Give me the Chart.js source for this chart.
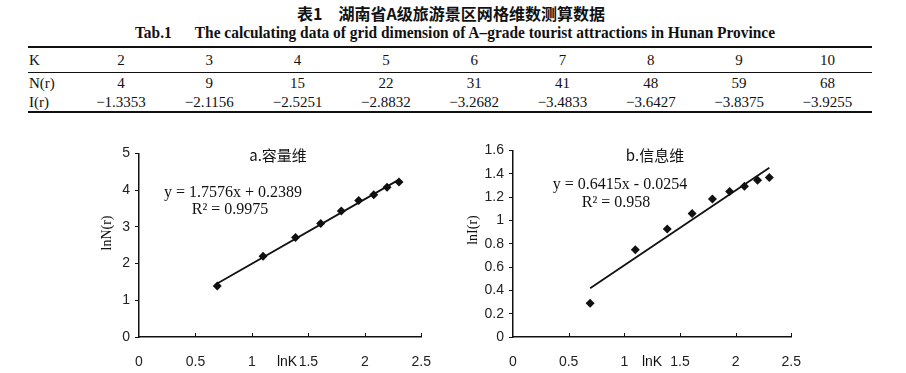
<!DOCTYPE html>
<html>
<head>
<meta charset="utf-8">
<script src="https://cdn.jsdelivr.net/npm/chart.js@4.4.1/dist/chart.umd.min.js"></script>
<style>
  body { margin: 0; width: 906px; height: 373px; overflow: hidden; position: relative; background: #fff; color: #111; font-family: "Liberation Serif", serif; }
  .txt { position: absolute; white-space: nowrap; }
  .rule { position: absolute; left: 28px; width: 844px; background: #111; }
  canvas { position: absolute; }
</style>
</head>
<body>
<div id="tbl"></div>
<canvas id="ca" width="350" height="233" style="left:90px;top:140px"></canvas>
<canvas id="cb" width="350" height="236" style="left:460px;top:137px"></canvas>
<script>
// table data
const K = [2, 3, 4, 5, 6, 7, 8, 9, 10]
const N = [4, 9, 15, 22, 31, 41, 48, 59, 68]
const I = [-1.3353, -2.1156, -2.5251, -2.8832, -3.2682, -3.4833, -3.6427, -3.8375, -3.9255]

// points
const lnK = [0.693, 1.099, 1.386, 1.609, 1.792, 1.946, 2.079, 2.197, 2.303]
const lnN = [1.386, 2.197, 2.708, 3.091, 3.434, 3.714, 3.871, 4.078, 4.220]
const lnI = [0.289, 0.749, 0.926, 1.059, 1.184, 1.248, 1.293, 1.345, 1.367]

// fitted lines (end points)
const fitX = [0.693, 2.303]
const fitN = [1.457, 4.286]
const fitI = [0.419, 1.452]

const xTicks = [0, 0.5, 1, 1.5, 2, 2.5]

// ---- Table ----
const tbl = document.getElementById('tbl')

function addText(text, x, y, font, anchor) {
  const el = document.createElement('div')
  el.className = 'txt'
  el.textContent = text
  el.style.font = font
  el.style.left = x + 'px'
  el.style.top = y + 'px'
  el.style.transform = anchor === 'left' ? 'translate(0,-50%)' : 'translate(-50%,-50%)'
  tbl.appendChild(el)
  return el
}

// squeeze a line of text into a given width
function fitWidth(el, left, width) {
  el.style.transform = 'translate(0,-50%)'
  el.style.transformOrigin = 'left center'
  const w = el.getBoundingClientRect().width
  el.style.left = left + 'px'
  el.style.transform = `translate(0,-50%) scaleX(${width / w})`
}

const t1 = addText('表1　湖南省A级旅游景区网格维数测算数据', 0, 13, 'bold 16px "Noto Sans CJK SC"', 'left')
fitWidth(t1, 297, 308)
const t2 = addText('Tab.1\u2003\u2002The calculating data of grid dimension of A\u2013grade tourist attractions in Hunan Province', 0, 33, 'bold 16px "Liberation Serif"', 'left')
fitWidth(t2, 135, 640)

;[[46, 2], [72, 1], [111, 2]].forEach(([y, h]) => {
  const r = document.createElement('div')
  r.className = 'rule'
  r.style.top = y + 'px'
  r.style.height = h + 'px'
  tbl.appendChild(r)
})

const fmtI = v => (v < 0 ? '\u2212' : '') + Math.abs(v).toFixed(4)
const rows = [
  { label: 'K', vals: K.map(String), y: 60 },
  { label: 'N(r)', vals: N.map(String), y: 83 },
  { label: 'I(r)', vals: I.map(fmtI), y: 102 },
]
const cellFont = '15px "Liberation Serif"'
rows.forEach(row => {
  addText(row.label, 29, row.y, cellFont, 'left')
  row.vals.forEach((v, i) => addText(v, 121 + 88.3 * i, row.y, cellFont))
})

// ---- Charts ----
const ink = '#111'

const overlay = {
  id: 'overlay',
  afterDraw(chart, args, opts) {
    const ctx = chart.ctx
    const xs = chart.scales.x
    const bottom = chart.chartArea.bottom
    ctx.save()
    // small tick marks pointing up from the x axis
    ctx.strokeStyle = ink
    ctx.lineWidth = 1
    xs.ticks.forEach(t => {
      if (t.value === 0) return
      const px = Math.round(xs.getPixelForValue(t.value)) + 0.5
      ctx.beginPath()
      ctx.moveTo(px, bottom)
      ctx.lineTo(px, bottom - 4)
      ctx.stroke()
    })
    ctx.fillStyle = ink
    ctx.textAlign = 'center'
    ctx.textBaseline = 'middle'
    opts.texts.forEach(t => {
      ctx.save()
      ctx.font = t.font
      ctx.translate(t.x, t.y)
      if (t.rot) ctx.rotate(-Math.PI / 2)
      ctx.fillText(t.text, 0, 0)
      ctx.restore()
    })
    ctx.restore()
  }
}

function makeChart(id, ys, fitY, yMax, yStep, axisW, texts) {
  const pts = lnK.map((x, i) => ({ x, y: ys[i] }))
  const line = fitX.map((x, i) => ({ x, y: fitY[i] }))
  return new Chart(document.getElementById(id), {
    type: 'scatter',
    data: {
      datasets: [
        {
          data: line,
          showLine: true,
          borderColor: ink,
          borderWidth: 1.8,
          pointRadius: 0,
        },
        {
          data: pts,
          pointStyle: 'rectRot',
          pointRadius: 4.5,
          backgroundColor: ink,
          borderColor: ink,
          borderWidth: 0,
        },
      ]
    },
    options: {
      responsive: false,
      animation: false,
      devicePixelRatio: 1,
      layout: { padding: { top: 10, right: 17 } },
      plugins: {
        legend: { display: false },
        tooltip: { enabled: false },
        overlay: { texts },
      },
      scales: {
        x: {
          type: 'linear',
          min: 0,
          max: 2.5,
          afterBuildTicks: s => { s.ticks = xTicks.map(value => ({ value })) },
          ticks: {
            color: '#222',
            padding: 9,
            font: { family: '"Liberation Sans", Arial', size: 14 },
            callback: v => String(v),
          },
          grid: { display: false },
          border: { color: ink, width: 1.5 },
          afterFit: s => { s.height = 36 },
        },
        y: {
          min: 0,
          max: yMax,
          ticks: {
            stepSize: yStep,
            color: '#222',
            padding: 5,
            font: { family: '"Liberation Sans", Arial', size: 14 },
            callback: v => String(+v.toFixed(2)),
          },
          grid: { display: true, drawOnChartArea: false, drawTicks: true, tickLength: 4, color: ink },
          border: { color: ink, width: 1.5 },
          afterFit: s => { s.width = axisW },
        },
      }
    },
    plugins: [overlay]
  })
}

makeChart('ca', lnN, fitN, 5, 1, 49, [
  { text: 'a.容量维', x: 188, y: 15, font: '15px "Noto Sans CJK SC"' },
  { text: 'y = 1.7576x + 0.2389', x: 143, y: 53, font: '16px "Liberation Serif"' },
  { text: 'R² = 0.9975', x: 140, y: 70, font: '16px "Liberation Serif"' },
  { text: 'lnN(r)', x: 17, y: 93, font: '14px "Liberation Serif"', rot: true },
  { text: 'lnK', x: 197, y: 222, font: '14px "Liberation Sans"' },
])

makeChart('cb', lnI, fitI, 1.6, 0.2, 53, [
  { text: 'b.信息维', x: 195, y: 18, font: '15px "Noto Sans CJK SC"' },
  { text: 'y = 0.6415x - 0.0254', x: 160, y: 48, font: '16px "Liberation Serif"' },
  { text: 'R² = 0.958', x: 156, y: 66, font: '16px "Liberation Serif"' },
  { text: 'lnI(r)', x: 13, y: 93, font: '14px "Liberation Serif"', rot: true },
  { text: 'lnK', x: 192, y: 225, font: '14px "Liberation Sans"' },
])
</script>
</body>
</html>
